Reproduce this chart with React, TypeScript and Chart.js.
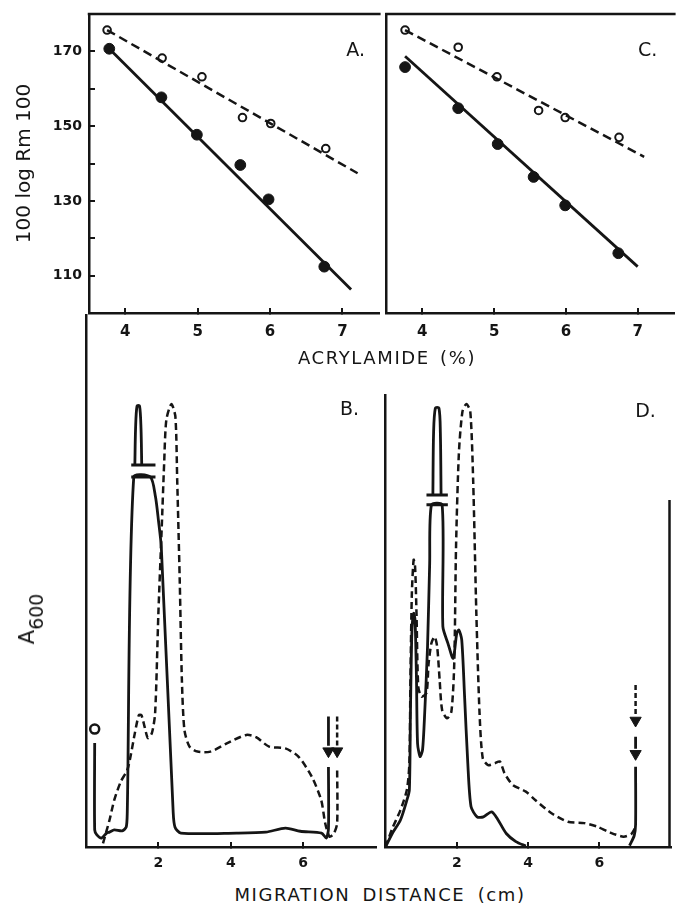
import React, { useEffect, useRef } from 'react';
import { Chart, registerables } from 'chart.js';

Chart.register(...registerables);

const INK = '#151515';
const FONT = '"DejaVu Sans", "Liberation Sans", sans-serif';

// ---------- Panels A and C: 100 log Rm 100 vs acrylamide (%) ----------
const TOP_X_TICKS = [4, 5, 6, 7];
const TOP_Y_TICKS = [110, 120, 130, 140, 150, 160, 170];
const TOP_Y_LABELS = [110, 130, 150, 170];

const A_OPEN: [number, number][] = [[3.75, 175.7], [4.51, 168.2], [5.06, 163.2], [5.62, 152.3], [6.01, 150.7], [6.77, 144.0]];
const A_FILLED: [number, number][] = [[3.78, 170.7], [4.5, 157.7], [4.99, 147.7], [5.59, 139.6], [5.98, 130.4], [6.75, 112.4]];
const A_OPEN_FIT: [number, number][] = [[3.75, 175.7], [7.21, 137.4]];
const A_FILLED_FIT: [number, number][] = [[3.78, 170.7], [7.12, 106.3]];

const C_OPEN: [number, number][] = [[3.76, 175.7], [4.5, 171.1], [5.04, 163.2], [5.62, 154.2], [5.99, 152.3], [6.74, 147.0]];
const C_FILLED: [number, number][] = [[3.76, 165.8], [4.5, 154.8], [5.05, 145.2], [5.55, 136.4], [5.99, 128.8], [6.73, 116.0]];
const C_OPEN_FIT: [number, number][] = [[3.76, 175.7], [7.09, 141.8]];
const C_FILLED_FIT: [number, number][] = [[3.76, 168.7], [7.0, 112.4]];

// ---------- Panels B and D: A600 vs migration distance (cm) ----------
const BOTTOM_X_TICKS = [2, 4, 6];

const B_SOLID: [number, number][] = [
  [0.24, 23.1], [0.24, 3.8], [0.3, 2.7], [0.43, 2.0], [0.57, 3.1], [0.65, 3.3], [0.78, 3.8], [1.0, 3.6],
  [1.11, 4.4], [1.14, 7.6], [1.32, 82.2], [1.78, 82.2], [1.92, 77.8], [2.0, 72.7], [2.08, 66.7],
  [2.41, 7.6], [2.46, 4.4], [2.62, 3.1], [4.16, 3.1], [4.97, 3.3], [5.51, 4.2], [5.92, 3.5],
  [6.51, 3.1], [6.64, 2.0], [6.7, 4.0], [6.7, 17.8],
];
const B_SOLID_PEAK: [number, number][] = [[1.35, 84.9], [1.37, 93], [1.41, 98.0], [1.48, 98.0], [1.52, 93], [1.54, 84.9]];
const B_BREAK_LOW: [number, number][] = [[1.25, 82.2], [1.92, 82.2]];
const B_BREAK_HIGH: [number, number][] = [[1.25, 84.9], [1.92, 84.9]];
const B_DASHED: [number, number][] = [
  [0.47, 0.8], [0.65, 6.0], [0.78, 10.4], [0.96, 14.5], [1.14, 17.1], [1.23, 20.1], [1.35, 25.3],
  [1.46, 29.3], [1.53, 29.3], [1.62, 26.7], [1.71, 24.2], [1.82, 25.3], [1.91, 29.7], [2.0, 51.9],
  [2.09, 70.4], [2.16, 85.3], [2.22, 94.9], [2.36, 98.4], [2.47, 95.6], [2.52, 81.6], [2.59, 59.3],
  [2.65, 37.0], [2.72, 26.0], [2.86, 22.3], [3.08, 21.2], [3.44, 21.2], [3.89, 23.0], [4.43, 24.9],
  [4.7, 24.4], [5.06, 22.3], [5.51, 21.9], [5.87, 20.1], [6.24, 15.6], [6.5, 10.4], [6.61, 5.3],
  [6.73, 2.3], [6.85, 3.0], [6.94, 5.3], [6.94, 17.8],
];
const B_ORIGIN: [number, number][] = [[0.24, 26.2]];
const B_ARROW_SOLID_SHAFT: [number, number][] = [[6.7, 29.0], [6.7, 22.5]];
const B_ARROW_SOLID_HEAD: [number, number][] = [[6.7, 21.3]];
const B_ARROW_DASHED_SHAFT: [number, number][] = [[6.94, 29.0], [6.94, 22.5]];
const B_ARROW_DASHED_HEAD: [number, number][] = [[6.94, 21.3]];

const D_SOLID: [number, number][] = [
  [0, 0], [0.19, 3.0], [0.42, 6.0], [0.6, 10.4], [0.67, 12.7], [0.7, 29.7], [0.74, 47.5], [0.79, 51.9],
  [0.83, 50.4], [0.87, 37.1], [0.9, 23.0], [0.97, 20.1], [1.04, 21.6], [1.1, 29.7], [1.18, 44.5],
  [1.24, 63.0], [1.29, 76.0], [1.59, 76.0], [1.61, 49.0], [1.75, 45.3], [1.9, 41.9], [2.0, 47.5],
  [2.06, 48.2], [2.14, 46.0], [2.22, 33.4], [2.31, 18.6], [2.4, 9.0], [2.57, 6.7], [2.75, 6.7],
  [2.98, 7.8], [3.16, 6.0], [3.39, 3.0], [3.66, 1.2], [3.94, 0.2],
];
const D_SOLID_PEAK: [number, number][] = [[1.33, 78.2], [1.35, 92], [1.4, 97.5], [1.5, 97.5], [1.54, 92], [1.56, 78.2]];
const D_BREAK_LOW: [number, number][] = [[1.15, 76.0], [1.75, 76.0]];
const D_BREAK_HIGH: [number, number][] = [[1.15, 78.2], [1.75, 78.2]];
const D_SOLID_FRONT: [number, number][] = [[6.85, 0.3], [6.98, 2.5], [7.02, 5.0], [7.02, 17.8]];
const D_DASHED: [number, number][] = [
  [0, 0], [0.19, 4.1], [0.42, 8.2], [0.6, 12.7], [0.67, 18.6], [0.7, 37.1], [0.74, 56.4], [0.79, 63.8],
  [0.83, 62.3], [0.87, 51.9], [0.92, 35.6], [1.01, 33.4], [1.15, 34.2], [1.21, 40.8], [1.29, 45.3],
  [1.38, 46.7], [1.45, 44.5], [1.52, 37.1], [1.59, 30.4], [1.73, 28.6], [1.85, 30.1], [1.93, 40.8],
  [1.98, 66.7], [2.06, 87.5], [2.16, 96.7], [2.27, 98.4], [2.38, 96.7], [2.46, 81.6], [2.55, 51.9],
  [2.64, 29.7], [2.73, 19.7], [2.88, 18.2], [3.07, 18.6], [3.21, 19.0], [3.34, 16.4], [3.57, 13.8],
  [3.94, 12.3], [4.21, 10.4], [4.66, 7.5], [5.12, 5.6], [5.58, 5.3], [5.95, 4.5], [6.31, 3.2],
  [6.68, 2.3], [6.9, 2.9], [7.0, 4.1],
];
const D_ARROW_SOLID_SHAFT: [number, number][] = [[7.02, 24.5], [7.02, 21.8]];
const D_ARROW_SOLID_HEAD: [number, number][] = [[7.02, 20.7]];
const D_ARROW_DASHED_SHAFT: [number, number][] = [[7.02, 36.0], [7.02, 29.5]];
const D_ARROW_DASHED_HEAD: [number, number][] = [[7.02, 28.1]];

const B_Y_MAX = 118.2;
const D_Y_MAX = 100.4;

const xy = (pts: [number, number][]) => pts.map(([x, y]) => ({ x, y }));

const solid = (pts: [number, number][], extra: any = {}) => ({
  data: xy(pts), borderColor: INK, backgroundColor: INK, borderWidth: 2.8,
  pointRadius: 0, tension: 0.25, fill: false, clip: 6, ...extra,
});
const dashed = (pts: [number, number][], extra: any = {}) =>
  solid(pts, { borderWidth: 2.5, borderDash: [7, 4], ...extra });
const head = (pts: [number, number][]) => ({
  data: xy(pts), showLine: false, pointStyle: 'triangle', rotation: 180, pointRadius: 6.5,
  pointBackgroundColor: INK, pointBorderColor: INK, pointBorderWidth: 1, clip: false,
});

const decorPlugin = {
  id: 'decor',
  afterDraw(chart: any, _args: any, opts: any) {
    const { ctx, chartArea: a } = chart;
    ctx.save();
    ctx.strokeStyle = INK;
    ctx.lineWidth = 2.5;
    if (opts.top) {
      ctx.beginPath();
      ctx.moveTo(a.left - 1.25, a.top);
      ctx.lineTo(a.right + 2, a.top);
      ctx.stroke();
    }
    if (opts.rightFrom != null) {
      ctx.beginPath();
      ctx.moveTo(a.right - 1, a.top + opts.rightFrom);
      ctx.lineTo(a.right - 1, a.bottom + 1);
      ctx.stroke();
    }
    if (opts.label) {
      ctx.fillStyle = INK;
      ctx.font = `19px ${FONT}`;
      ctx.textAlign = 'center';
      ctx.textBaseline = 'middle';
      ctx.fillText(opts.label, a.right - opts.dx, a.top + opts.dy);
    }
    ctx.restore();
  },
};

const baseOptions = (scales: any, decor: any) => ({
  animation: false,
  responsive: false,
  devicePixelRatio: 1,
  events: [],
  scales,
  plugins: { legend: { display: false }, tooltip: { enabled: false }, decor },
});

const fixX = (h: number) => (s: any) => { s.height = h; s.paddingLeft = 0; s.paddingRight = 0; };
const fixY = (w: number) => (s: any) => { s.width = w; s.paddingTop = 0; s.paddingBottom = 0; };

const topX = () => ({
  type: 'linear', min: 3.5, max: 7.5,
  afterBuildTicks: (s: any) => { s.ticks = TOP_X_TICKS.map((v) => ({ value: v })); },
  afterFit: fixX(32),
  grid: { drawOnChartArea: false, color: INK, lineWidth: 2, tickLength: -5 },
  border: { display: true, color: INK, width: 2.5 },
  ticks: { color: INK, font: { size: 15, weight: 'bold', family: FONT }, padding: 15, maxRotation: 0, autoSkip: false },
});

const bottomX = () => ({
  type: 'linear', min: 0, max: 8,
  afterBuildTicks: (s: any) => { s.ticks = BOTTOM_X_TICKS.map((v) => ({ value: v })); },
  afterFit: fixX(33),
  grid: { drawOnChartArea: false, color: INK, lineWidth: 2, tickLength: -5 },
  border: { display: true, color: INK, width: 2.5 },
  ticks: { color: INK, font: { size: 14, weight: 'bold', family: FONT }, padding: 13, maxRotation: 0, autoSkip: false },
});

const plainY = (min: number, max: number, width: number) => ({
  type: 'linear', min, max,
  afterFit: fixY(width),
  ticks: { display: false },
  grid: { display: false },
  border: { display: true, color: INK, width: 2.5 },
});

const topDatasets = (open: any, filled: any, openFit: any, filledFit: any) => [
  dashed(openFit, { borderDash: [9, 5], tension: 0 }),
  solid(filledFit, { tension: 0 }),
  { data: xy(open), showLine: false, pointRadius: 3.8, pointBackgroundColor: '#fff', pointBorderColor: INK, pointBorderWidth: 2 },
  { data: xy(filled), showLine: false, pointRadius: 5.4, pointBackgroundColor: INK, pointBorderColor: INK, pointBorderWidth: 1 },
];

export default function App() {
  const aRef = useRef<HTMLCanvasElement>(null);
  const cRef = useRef<HTMLCanvasElement>(null);
  const bRef = useRef<HTMLCanvasElement>(null);
  const dRef = useRef<HTMLCanvasElement>(null);

  useEffect(() => {
    const charts: Chart[] = [];

    charts.push(new Chart(aRef.current as HTMLCanvasElement, {
      type: 'line',
      data: { datasets: topDatasets(A_OPEN, A_FILLED, A_OPEN_FIT, A_FILLED_FIT) as any },
      options: {
        ...baseOptions({
          x: topX(),
          y: {
            type: 'linear', min: 100, max: 180,
            afterBuildTicks: (s: any) => { s.ticks = TOP_Y_TICKS.map((v) => ({ value: v })); },
            afterFit: fixY(89),
            grid: { drawOnChartArea: false, color: INK, lineWidth: 2, tickLength: -6 },
            border: { display: true, color: INK, width: 2.5 },
            ticks: {
              color: INK, font: { size: 14, weight: 'bold', family: FONT }, padding: 13,
              callback: (v: any) => (TOP_Y_LABELS.includes(Number(v)) ? String(v) : ''),
            },
            title: { display: true, text: '100 log Rm 100', color: INK, font: { size: 20, family: FONT }, padding: { top: 13, bottom: 0 } },
          },
        }, { top: true, label: 'A.', dx: 23, dy: 37 }),
        layout: { padding: { top: 14, left: 0, right: 0, bottom: 0 } },
      } as any,
      plugins: [decorPlugin],
    }));

    charts.push(new Chart(cRef.current as HTMLCanvasElement, {
      type: 'line',
      data: { datasets: topDatasets(C_OPEN, C_FILLED, C_OPEN_FIT, C_FILLED_FIT) as any },
      options: {
        ...baseOptions({ x: topX(), y: plainY(100, 180, 5) }, { top: true, label: 'C.', dx: 26, dy: 37 }),
        layout: { padding: { top: 14, left: 0, right: 0, bottom: 0 } },
      } as any,
      plugins: [decorPlugin],
    }));

    charts.push(new Chart(bRef.current as HTMLCanvasElement, {
      type: 'line',
      data: {
        datasets: [
          solid(B_SOLID),
          solid(B_SOLID_PEAK, { tension: 0.3 }),
          solid(B_BREAK_LOW, { tension: 0, borderWidth: 3 }),
          solid(B_BREAK_HIGH, { tension: 0, borderWidth: 3 }),
          dashed(B_DASHED),
          solid(B_ARROW_SOLID_SHAFT, { tension: 0 }),
          head(B_ARROW_SOLID_HEAD),
          dashed(B_ARROW_DASHED_SHAFT, { tension: 0, borderDash: [5, 3] }),
          head(B_ARROW_DASHED_HEAD),
          { data: xy(B_ORIGIN), showLine: false, pointRadius: 4.5, pointBackgroundColor: '#fff', pointBorderColor: INK, pointBorderWidth: 2.5, clip: false },
        ] as any,
      },
      options: {
        ...baseOptions({ x: bottomX(), y: plainY(0, B_Y_MAX, 86) }, { label: 'B.', dx: 26, dy: 95 }),
        layout: { padding: { top: 15, left: 0, right: 0, bottom: 0 } },
      } as any,
      plugins: [decorPlugin],
    }));

    charts.push(new Chart(dRef.current as HTMLCanvasElement, {
      type: 'line',
      data: {
        datasets: [
          solid(D_SOLID),
          solid(D_SOLID_PEAK, { tension: 0.3 }),
          solid(D_BREAK_LOW, { tension: 0, borderWidth: 3 }),
          solid(D_BREAK_HIGH, { tension: 0, borderWidth: 3 }),
          solid(D_SOLID_FRONT),
          dashed(D_DASHED),
          solid(D_ARROW_SOLID_SHAFT, { tension: 0 }),
          head(D_ARROW_SOLID_HEAD),
          dashed(D_ARROW_DASHED_SHAFT, { tension: 0, borderDash: [5, 3] }),
          head(D_ARROW_DASHED_HEAD),
        ] as any,
      },
      options: {
        ...baseOptions({ x: bottomX(), y: plainY(0, D_Y_MAX, 5) }, { label: 'D.', dx: 25, dy: 17, rightFrom: 105 }),
        layout: { padding: { top: 95, left: 0, right: 3, bottom: 0 } },
      } as any,
      plugins: [decorPlugin],
    }));

    return () => charts.forEach((c) => c.destroy());
  }, []);

  const abs = (left: number, top: number, w: number, h: number): React.CSSProperties => ({
    position: 'absolute', left, top, width: w, height: h,
  });

  return (
    <div style={{ position: 'fixed', left: 0, top: 0, width: 677, height: 905, overflow: 'hidden', background: '#fff', fontFamily: FONT, color: INK }}>
      <canvas ref={aRef} width={385} height={345} style={abs(0, 0, 385, 345)} />
      <canvas ref={cRef} width={300} height={345} style={abs(380, 0, 300, 345)} />
      <canvas ref={bRef} width={383} height={580} style={abs(0, 300, 383, 580)} />
      <canvas ref={dRef} width={300} height={580} style={abs(378, 300, 300, 580)} />
      <div style={{ position: 'absolute', left: 237, top: 347, width: 300, textAlign: 'center', fontSize: 18, lineHeight: '22px', letterSpacing: '1.6px', wordSpacing: '3px', whiteSpace: 'nowrap' }}>
        ACRYLAMIDE (%)
      </div>
      <div style={{ position: 'absolute', left: 180, top: 884, width: 400, textAlign: 'center', fontSize: 18, lineHeight: '22px', letterSpacing: '1.6px', wordSpacing: '5px', whiteSpace: 'nowrap' }}>
        MIGRATION DISTANCE (cm)
      </div>
      <div style={{ position: 'absolute', left: 27, top: 619, transform: 'translate(-50%, -50%) rotate(-90deg)', fontSize: 21, lineHeight: '24px', whiteSpace: 'nowrap' }}>
        A<span style={{ position: 'relative', top: 9, fontSize: 19 }}>600</span>
      </div>
    </div>
  );
}
